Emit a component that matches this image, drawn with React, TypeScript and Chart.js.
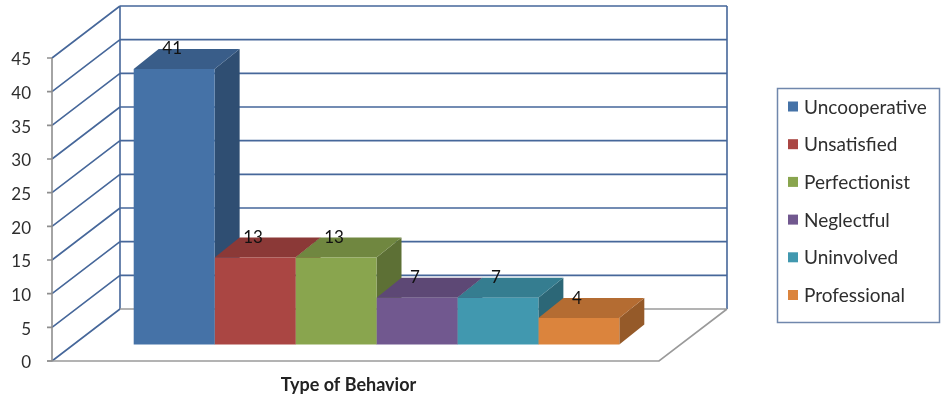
import { useEffect, useRef } from "react";
import { Chart, registerables } from "chart.js";

Chart.register(...registerables);

// ---- data ----
const categories = ["Type of Behavior"];
const behaviorTypes = [
  "Uncooperative",
  "Unsatisfied",
  "Perfectionist",
  "Neglectful",
  "Uninvolved",
  "Professional",
];
const counts = [41, 13, 13, 7, 7, 4];
const seriesColors = ["#4572A7", "#AA4643", "#89A54E", "#71588F", "#4198AF", "#DB843D"];
const yAxisMax = 45;
const yAxisStep = 5;

// ---- look ----
const FONT = "Lato, 'Open Sans', sans-serif";
const GRID = "#46679A";
const FLOOR = "#9A9A9A";
const AXIS = "#8E8E8E";
const TEXT = "#2E2E2E";

// Offsets (px) of the pseudo-3D planes relative to the bar front plane
const FRONT = { dx: -21, dy: 16 }; // front edge of the floor / value axis
const BACK = { dx: 47, dy: -36 }; // back wall
const DEPTH = { dx: 25, dy: -20 }; // thickness of each bar

function shade(hex: string, f: number): string {
  const n = parseInt(hex.slice(1), 16);
  const r = Math.round(((n >> 16) & 255) * f);
  const g = Math.round(((n >> 8) & 255) * f);
  const b = Math.round((n & 255) * f);
  return `rgb(${r},${g},${b})`;
}

function poly(ctx: CanvasRenderingContext2D, pts: number[][], fill: string) {
  ctx.fillStyle = fill;
  ctx.beginPath();
  ctx.moveTo(pts[0][0], pts[0][1]);
  for (let i = 1; i < pts.length; i++) ctx.lineTo(pts[i][0], pts[i][1]);
  ctx.closePath();
  ctx.fill();
}

const depthPlugin = {
  id: "depth3d",
  beforeDatasetsDraw(chart: any) {
    const { ctx, chartArea, scales } = chart;
    const y = scales.y;
    const { left, right } = chartArea;
    const y0 = y.getPixelForValue(0);
    const yTop = y.getPixelForValue(yAxisMax);
    const values: number[] = y.ticks.map((t: any) => t.value);

    ctx.save();
    ctx.lineWidth = 1.6;

    // back wall and side wall grid
    ctx.strokeStyle = GRID;
    ctx.beginPath();
    for (const v of values) {
      const p = y.getPixelForValue(v);
      if (v !== 0) {
        ctx.moveTo(left + BACK.dx, p + BACK.dy);
        ctx.lineTo(right + BACK.dx, p + BACK.dy);
      }
      ctx.moveTo(left + FRONT.dx, p + FRONT.dy);
      ctx.lineTo(left + BACK.dx, p + BACK.dy);
    }
    ctx.moveTo(left + BACK.dx, yTop + BACK.dy);
    ctx.lineTo(left + BACK.dx, y0 + BACK.dy);
    ctx.moveTo(right + BACK.dx, yTop + BACK.dy);
    ctx.lineTo(right + BACK.dx, y0 + BACK.dy);
    ctx.stroke();

    // floor edges
    ctx.strokeStyle = FLOOR;
    ctx.beginPath();
    ctx.moveTo(left + BACK.dx, y0 + BACK.dy);
    ctx.lineTo(right + BACK.dx, y0 + BACK.dy);
    ctx.moveTo(left + FRONT.dx - 5, y0 + FRONT.dy);
    ctx.lineTo(right + FRONT.dx, y0 + FRONT.dy);
    ctx.lineTo(right + BACK.dx, y0 + BACK.dy);
    ctx.stroke();

    // value axis line with tick marks
    ctx.strokeStyle = AXIS;
    ctx.beginPath();
    ctx.moveTo(left + FRONT.dx, yTop + FRONT.dy);
    ctx.lineTo(left + FRONT.dx, y0 + FRONT.dy);
    for (const v of values) {
      const p = y.getPixelForValue(v);
      ctx.moveTo(left + FRONT.dx - 5, p + FRONT.dy);
      ctx.lineTo(left + FRONT.dx, p + FRONT.dy);
    }
    ctx.stroke();

    // side and top faces of the bars, left to right
    chart.data.datasets.forEach((ds: any, i: number) => {
      const meta = chart.getDatasetMeta(i);
      meta.data.forEach((bar: any) => {
        const { x, y: top, base, width } = bar.getProps(["x", "y", "base", "width"], true);
        const l = x - width / 2;
        const r = x + width / 2;
        const color = ds.backgroundColor as string;
        poly(
          ctx,
          [
            [r, top],
            [r + DEPTH.dx, top + DEPTH.dy],
            [r + DEPTH.dx, base + DEPTH.dy],
            [r, base],
          ],
          shade(color, 0.68)
        );
        poly(
          ctx,
          [
            [l, top],
            [l + DEPTH.dx, top + DEPTH.dy],
            [r + DEPTH.dx, top + DEPTH.dy],
            [r, top],
          ],
          shade(color, 0.82)
        );
      });
    });
    ctx.restore();
  },
  afterDatasetsDraw(chart: any) {
    const { ctx } = chart;
    ctx.save();
    ctx.font = `17px ${FONT}`;
    ctx.fillStyle = "#111111";
    ctx.textAlign = "center";
    ctx.textBaseline = "middle";
    chart.data.datasets.forEach((ds: any, i: number) => {
      const meta = chart.getDatasetMeta(i);
      meta.data.forEach((bar: any, j: number) => {
        const { x, y } = bar.getProps(["x", "y"], true);
        ctx.fillText(String(ds.data[j]), x - 2, y + DEPTH.dy);
      });
    });
    ctx.restore();
  },
  afterDraw(chart: any) {
    const { ctx, chartArea } = chart;
    const boxLeft = chartArea.right + 97;
    const boxTop = 88;
    const boxW = 162;
    const boxH = 234;
    ctx.save();
    ctx.strokeStyle = "#7087AC";
    ctx.lineWidth = 1.5;
    ctx.strokeRect(boxLeft + 0.5, boxTop + 0.5, boxW, boxH);
    ctx.font = `19px ${FONT}`;
    ctx.textBaseline = "middle";
    ctx.textAlign = "left";
    chart.data.datasets.forEach((ds: any, i: number) => {
      const cy = boxTop + 18.5 + i * 37.7;
      ctx.fillStyle = ds.backgroundColor;
      ctx.fillRect(boxLeft + 11, cy - 5, 10, 10);
      ctx.fillStyle = TEXT;
      ctx.fillText(ds.label, boxLeft + 27, cy + 1);
    });
    ctx.restore();
  },
};

export default function App() {
  const ref = useRef<HTMLCanvasElement>(null);

  useEffect(() => {
    const chart = new Chart(ref.current as HTMLCanvasElement, {
      type: "bar",
      data: {
        labels: categories,
        datasets: behaviorTypes.map((name, i) => ({
          label: name,
          data: [counts[i]],
          backgroundColor: seriesColors[i],
          borderWidth: 0,
          categoryPercentage: 0.8,
          barPercentage: 1,
        })),
      },
      options: {
        responsive: false,
        animation: false,
        layout: { padding: { top: 42, right: 262, bottom: 0, left: 0 } },
        plugins: {
          legend: { display: false },
          tooltip: { enabled: false },
        },
        scales: {
          x: {
            type: "category",
            grid: { display: false },
            border: { display: false },
            ticks: {
              font: { family: FONT, size: 18, weight: "bold" },
              color: "#222222",
              padding: 21,
              labelOffset: -28,
            },
            afterFit: (scale: any) => {
              scale.height = 50;
            },
          },
          y: {
            min: 0,
            max: yAxisMax,
            // invisible tick marks keep the labels clear of the 3D side wall
            grid: {
              display: true,
              drawOnChartArea: false,
              drawTicks: true,
              tickLength: 42,
              color: "rgba(0,0,0,0)",
            },
            border: { display: false },
            ticks: {
              stepSize: yAxisStep,
              font: { family: FONT, size: 17 },
              color: TEXT,
              padding: 0,
              labelOffset: 18,
            },
            afterFit: (scale: any) => {
              scale.width = 73;
            },
          },
        },
      },
      plugins: [depthPlugin],
    });
    return () => chart.destroy();
  }, []);

  return (
    <div style={{ position: "absolute", left: 0, top: 0, width: 942, height: 395 }}>
      <canvas ref={ref} width={942} height={395} style={{ display: "block" }} />
    </div>
  );
}
